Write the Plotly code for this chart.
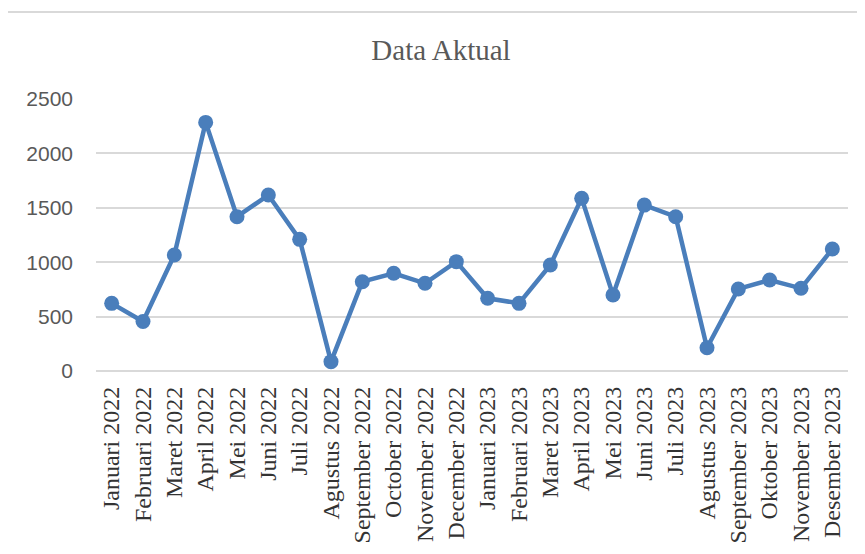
import plotly.graph_objects as go

categories = ["Januari 2022", "Februari 2022", "Maret 2022", "April 2022", "Mei 2022",
              "Juni 2022", "Juli 2022", "Agustus 2022", "September 2022", "October 2022",
              "November 2022", "December 2022", "Januari 2023", "Februari 2023", "Maret 2023",
              "April 2023", "Mei 2023", "Juni 2023", "Juli 2023", "Agustus 2023",
              "September 2023", "Oktober 2023", "November 2023", "Desember 2023"]
values = [622, 455, 1066, 2285, 1418, 1617, 1210, 86, 821, 898, 806, 1005,
          668, 622, 974, 1587, 698, 1525, 1418, 214, 754, 836, 760, 1121]
y_ticks = [0, 500, 1000, 1500, 2000, 2500]

fig = go.Figure()
fig.add_trace(go.Scatter(
    x=categories, y=values, mode="lines+markers",
    line=dict(color="#4a7ebb", width=4.5),
    marker=dict(color="#4a7ebb", size=15),
    showlegend=False,
))

# page body has an 8px margin, so figure is offset by (8, 8)
fig.update_layout(
    width=857, height=546,
    margin=dict(l=88, r=17, t=91, b=183),
    paper_bgcolor="white", plot_bgcolor="white",
    title=dict(text="Data Aktual", x=(441 - 8) / 857, xanchor="center",
               y=1 - 42 / 546, yanchor="middle", yref="container",
               font=dict(family="Liberation Serif", size=29, color="#595959")),
    xaxis=dict(type="category", range=[-0.5, 23.5], tickangle=-90,
               showgrid=False, showline=False, ticks="",
               ticklabelstandoff=10,
               tickfont=dict(family="Liberation Serif", size=24, color="#333333")),
    yaxis=dict(range=[0, 2500], tickvals=y_ticks, showgrid=True,
               gridcolor="#d9d9d9", gridwidth=1.5, zeroline=True,
               zerolinecolor="#d9d9d9", zerolinewidth=1.5, ticks="",
               ticklabelstandoff=22,
               tickfont=dict(family="Liberation Sans", size=21, color="#595959")),
    shapes=[dict(type="line", xref="paper", yref="paper",
                 x0=-0.2, x1=1.05, y0=1 + 87 / 272, y1=1 + 87 / 272,
                 line=dict(color="#d9d9d9", width=2))],
)

fig.write_html("out.html")
